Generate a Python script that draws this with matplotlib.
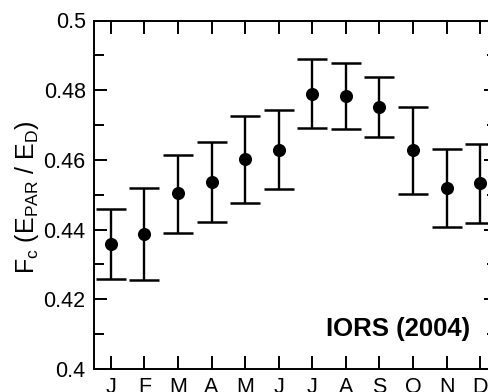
import matplotlib
matplotlib.use("Agg")
import matplotlib.pyplot as plt
from matplotlib.ticker import MultipleLocator

plt.rcParams['font.family'] = ['Liberation Sans', 'DejaVu Sans']

months = ["J", "F", "M", "A", "M", "J", "J", "A", "S", "O", "N", "D"]
fc_mean = [0.4358, 0.4387, 0.4506, 0.4537, 0.4602, 0.4629,
           0.4790, 0.4782, 0.4751, 0.4628, 0.4519, 0.4533]
fc_upper = [0.4460, 0.4519, 0.4614, 0.4652, 0.4727, 0.4742,
            0.4889, 0.4878, 0.4838, 0.4752, 0.4631, 0.4645]
fc_lower = [0.4258, 0.4255, 0.4389, 0.4421, 0.4475, 0.4516,
            0.4692, 0.4690, 0.4665, 0.4503, 0.4407, 0.4420]
ytick_vals = [0.4, 0.42, 0.44, 0.46, 0.48, 0.5]
ytick_labels = ["0.4", "0.42", "0.44", "0.46", "0.48", "0.5"]

x = list(range(1, len(months) + 1))
err_lo = [m - lo for m, lo in zip(fc_mean, fc_lower)]
err_hi = [hi - m for m, hi in zip(fc_mean, fc_upper)]

fig = plt.figure(figsize=(4.88, 3.92), dpi=100)
ax = fig.add_axes([94 / 488, 23 / 392, 403 / 488, 348.5 / 392])

ax.errorbar(x, fc_mean, yerr=[err_lo, err_hi], fmt='o', color='black',
            markersize=8.4, elinewidth=1.7, capsize=10.5, capthick=1.8)

ax.set_xlim(0.5, 12.5)
ax.set_ylim(0.4, 0.5)
ax.set_xticks(x)
ax.set_xticklabels(months)
ax.set_yticks(ytick_vals)
ax.set_yticklabels(ytick_labels)
ax.yaxis.set_minor_locator(MultipleLocator(0.01))

ax.tick_params(which='both', direction='in', top=True, right=True,
               width=1.4, labelsize=15.5)
ax.tick_params(which='major', length=9.5, pad=6)
ax.tick_params(which='minor', length=7)
for s in ax.spines.values():
    s.set_linewidth(1.4)

fig.text(27 / 488, 1 - 197 / 392, r"F$_\mathregular{c}$ (E$_\mathregular{PAR}$ / E$_\mathregular{D}$)",
         rotation=90, ha='center', va='center', fontsize=18)

ax.text(11.7, 0.4095, "IORS (2004)", ha='right', va='baseline',
        fontsize=18.5, fontweight='bold')

fig.savefig("out.png", dpi=100)
